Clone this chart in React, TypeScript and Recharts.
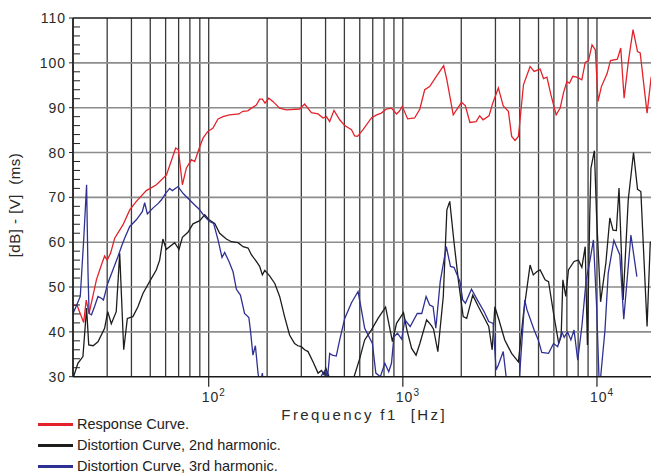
import React from "react";
import {
  LineChart,
  Line,
  XAxis,
  YAxis,
  CartesianGrid,
  ReferenceLine,
} from "recharts";

// frequency (Hz) / level pairs
const responseFreq = [
  20, 21, 22.7, 23.4, 24.2, 25.3, 26.4, 28, 29.1, 30, 31.2, 32.8, 36.2, 39.2,
  42.4, 47.7, 53.8, 60.6, 67.6, 69.8, 73.2, 76.7, 81.4, 84.7, 89.9, 93.5, 99,
  105, 111.7, 118.5, 128, 143, 150, 159, 166, 176, 183, 189, 195, 204, 214, 232,
  251, 294, 312, 338, 366, 388, 404, 420, 442, 473, 502, 544, 565, 584, 624,
  689, 733, 775, 822, 874, 928, 959, 993, 1059, 1150, 1224, 1296, 1375, 1488,
  1624, 1686, 1818, 2008, 2100, 2216, 2385, 2488, 2590, 2781, 2900, 3104, 3290,
  3497, 3636, 3783, 3938, 4183, 4523, 4747, 5097, 5306, 5523, 5790, 6164, 6463,
  6722, 6997, 7220, 7513, 7879, 8359, 8698, 9048, 9429, 9807, 10130, 10540,
  11280, 11740, 12740, 13260, 13800, 14480, 15340, 16180, 16700, 18120, 19020,
  20000,
];
const responseDb = [
  45.9, 45.9, 42.1, 47.1, 44.1, 47.9, 51.6, 54.9, 56.9, 56.0, 57.5, 60.9, 63.9,
  67.2, 69.1, 71.5, 72.8, 75.0, 81.0, 80.6, 72.8, 76.5, 78.4, 78.0, 81.3, 83.2,
  84.7, 85.4, 87.5, 88.0, 88.4, 88.6, 89.2, 89.3, 89.9, 90.6, 91.9, 91.9, 91.0,
  92.1, 91.4, 89.9, 89.5, 89.7, 90.8, 88.9, 88.6, 87.7, 88.0, 86.9, 89.4, 87.3,
  86.0, 85.1, 83.7, 83.6, 85.1, 87.7, 88.4, 88.8, 89.7, 89.9, 88.6, 89.2, 90.3,
  87.5, 87.7, 89.7, 94.0, 94.7, 97.0, 99.4, 96.2, 88.4, 91.2, 90.4, 86.7, 86.9,
  88.2, 87.3, 88.2, 90.9, 94.4, 90.4, 89.2, 83.6, 82.7, 83.6, 95.1, 99.2, 98.1,
  98.6, 96.5, 96.8, 92.9, 88.4, 89.9, 93.3, 95.8, 95.5, 97.0, 96.8, 96.2, 100.1,
  100.5, 104.0, 102.9, 91.4, 94.7, 97.6, 100.5, 100.8, 103.3, 92.1, 100.0,
  107.4, 102.5, 102.2, 88.8, 96.8, 97.2,
];

const secondFreq = [
  20, 21.2, 22.5, 23.5, 24.1, 25.4, 26.9, 29.1, 30.2, 31.5, 33.4, 34.8, 36.5,
  38.1, 40.7, 43.2, 45.9, 49.6, 53.7, 55.9, 58.1, 60.5, 66.8, 70.3, 73.2, 78.2,
  83, 89.9, 95.4, 100.4, 107.4, 113.9, 123.3, 130.9, 141.6, 150.4, 159.5, 165.9,
  176, 183, 189, 194.5, 206, 219, 232, 246, 261, 277, 288, 300, 312, 325, 345,
  366, 381, 393, 401, 417, 440, 500, 561, 600, 636, 688, 745, 815, 884, 928,
  1008, 1050, 1110, 1170, 1224, 1326, 1404, 1440, 1515, 1616, 1686, 1745, 1834,
  1931, 2046, 2133, 2291, 2452, 2659, 2770, 2886, 2978, 3125, 3350, 3486, 3634,
  3938, 4183, 4523, 4700, 4896, 5097, 5406, 5632, 5977, 6354, 6540, 6674, 6910,
  7130, 7620, 8020, 8360, 8698, 8930, 9170, 9310, 9700, 9960, 10440, 11110,
  11650, 12100, 12590, 12990, 13640, 14490, 15430, 16180, 16830, 18120, 18810,
  20000,
];
const secondDb = [
  29.6, 33.0, 34.5, 45.3, 37.1, 36.9, 37.8, 40.8, 44.5, 41.8, 44.5, 57.5, 36.0,
  43.0, 43.4, 45.6, 48.6, 51.2, 53.8, 56.0, 60.7, 58.4, 59.9, 58.4, 61.1, 62.2,
  64.1, 64.8, 66.1, 65.0, 64.2, 62.0, 60.7, 60.1, 59.9, 59.0, 58.7, 57.2, 55.7,
  54.6, 52.7, 53.7, 52.5, 50.8, 47.9, 43.4, 39.3, 37.4, 36.9, 36.7, 36.0, 35.6,
  33.3, 30.8, 31.4, 30.4, 31.9, 30.0, 28.0, 27.0, 30.0, 34.1, 38.2, 40.4, 43.0,
  45.5, 37.8, 41.9, 44.3, 40.4, 36.3, 34.8, 37.4, 42.7, 41.4, 40.6, 35.6, 47.9,
  67.2, 69.1, 60.1, 51.6, 43.4, 43.0, 48.2, 45.6, 42.7, 41.2, 36.0, 45.6, 42.7,
  38.2, 36.7, 35.2, 33.3, 44.1, 54.9, 52.7, 53.4, 53.8, 51.6, 51.2, 44.1, 37.4,
  39.0, 51.6, 47.9, 53.8, 55.7, 56.0, 54.4, 59.0, 37.1, 65.0, 76.5, 80.4, 65.7,
  46.7, 55.3, 65.4, 62.7, 62.6, 72.1, 47.1, 69.4, 80.0, 71.8, 71.3, 41.2, 59.8,
  61.5,
];

const thirdFreq = [
  20, 20.9, 21.8, 22.7, 23.5, 23.9, 24.2, 24.9, 25.8, 26.9, 28, 28.7, 30.2,
  32.1, 34.1, 35.5, 36.9, 39.2, 42.4, 45.5, 46.8, 48.3, 51.6, 54.8, 57, 60, 63,
  65, 69.5, 73.7, 79.8, 84.7, 89.1, 95.4, 101, 106, 111.7, 117.1, 120.9, 127.2,
  133.5, 138.9, 145.7, 153, 161, 164, 169, 174, 179.5, 184, 189, 193, 250, 350,
  378, 388, 400, 409, 420, 433, 454, 473, 502, 544, 588, 612, 636, 697, 726,
  766, 808, 846, 874, 900, 938, 986, 1025, 1091, 1187, 1252, 1318, 1375, 1432,
  1479, 1558, 1675, 1760, 1834, 1970, 2035, 2100, 2258, 2452, 2624, 2770, 2917,
  3024, 3104, 3290, 3420, 3700, 3990, 4247, 4362, 4747, 4985, 5196, 5632, 5977,
  6275, 6594, 6778, 7050, 7340, 7620, 7960, 8360, 8800, 9210, 9590, 9960, 10240,
  10350, 10500, 11000, 11430, 12220, 13110, 13740, 14960, 16050,
];
const thirdDb = [
  44.1, 46.0, 47.9, 60.5, 72.8, 53.1, 44.1, 43.8, 45.6, 47.9, 47.5, 47.1, 50.8,
  53.8, 56.8, 59.0, 60.9, 63.5, 65.0, 66.8, 68.8, 66.3, 67.6, 68.6, 69.4, 70.9,
  72.0, 71.5, 72.4, 70.9, 69.4, 68.3, 67.4, 65.7, 64.6, 64.2, 60.5, 56.6, 57.7,
  55.7, 53.4, 49.5, 48.2, 44.1, 43.2, 40.4, 34.8, 36.9, 30.8, 28.0, 30.8, 27.0,
  25.0, 25.0, 30.0, 30.8, 31.5, 29.5, 35.2, 34.8, 34.6, 38.2, 43.0, 46.5, 49.0,
  44.9, 40.8, 37.4, 30.8, 30.0, 33.0, 31.1, 33.0, 38.9, 39.7, 38.4, 42.7, 41.2,
  44.1, 44.1, 47.9, 46.0, 45.6, 40.8, 51.2, 59.0, 54.6, 54.4, 51.2, 47.1, 46.4,
  49.5, 46.7, 44.5, 42.3, 41.9, 31.5, 32.6, 35.6, 29.3, 27.0, 30.0, 47.1, 44.9,
  40.4, 38.2, 35.4, 35.2, 37.4, 36.7, 40.0, 38.8, 40.0, 38.2, 40.4, 33.7, 41.2,
  51.6, 56.0, 60.5, 45.6, 30.0, 28.0, 31.0, 40.4, 53.1, 60.4, 57.2, 42.8, 61.6,
  52.3,
];

const xGridTicks = [
  20, 30, 40, 50, 60, 70, 80, 90, 100, 200, 300, 400, 500, 600, 700, 800, 900,
  1000, 2000, 3000, 4000, 5000, 6000, 7000, 8000, 9000, 10000, 20000,
];
const xDecades = [100, 1000, 10000];
const yTicks = [
  30, 32, 34, 36, 38, 40, 42, 44, 46, 48, 50, 52, 54, 56, 58, 60, 62, 64, 66,
  68, 70, 72, 74, 76, 78, 80, 82, 84, 86, 88, 90, 92, 94, 96, 98, 100, 102,
  104, 106, 108, 110,
];
const yMajor = [40, 50, 60, 70, 80, 90, 100];

const series = [
  { name: "Response Curve.", color: "#e3232b", f: responseFreq, v: responseDb },
  {
    name: "Distortion Curve, 2nd harmonic.",
    color: "#1d1d1b",
    f: secondFreq,
    v: secondDb,
  },
  {
    name: "Distortion Curve, 3rd harmonic.",
    color: "#2e3192",
    f: thirdFreq,
    v: thirdDb,
  },
];

const toPoints = (f: number[], v: number[]) =>
  f.map((x, i) => ({ f: x, v: v[i] }));

const axisFont = "'Liberation Sans', Arial, sans-serif";

const YTick = (props: any) => {
  const { x, y, payload } = props;
  const ax = x + 7;
  const major = payload.value % 10 === 0;
  if (!major) {
    return <line x1={ax} x2={ax + 7} y1={y} y2={y} stroke="#222" strokeWidth={1} />;
  }
  return (
    <g>
      <line x1={ax - 4} x2={ax} y1={y} y2={y} stroke="#222" strokeWidth={1} />
      <text
        x={x}
        y={y}
        dy={5}
        textAnchor="end"
        fontFamily={axisFont}
        fontSize={14}
        letterSpacing={1}
        fill="#2a2a2a"
      >
        {payload.value}
      </text>
    </g>
  );
};

const XTick = (props: any) => {
  const { x, y, payload } = props;
  if (!xDecades.includes(payload.value)) return null;
  const exp = Math.round(Math.log10(payload.value));
  return (
    <g>
      <line x1={x} x2={x} y1={y} y2={y + 10} stroke="#222" strokeWidth={1.2} />
      <text
        x={x - 7}
        y={y + 25}
        fontFamily={axisFont}
        fontSize={14}
        letterSpacing={1}
        fill="#2a2a2a"
      >
        10
        <tspan dy={-6} fontSize={10} letterSpacing={0}>
          {exp}
        </tspan>
      </text>
    </g>
  );
};

const XTitle = (props: any) => {
  const vb = props.viewBox || {};
  const cx = (vb.x ?? 73) + (vb.width ?? 582) / 2;
  return (
    <text
      x={cx}
      y={420}
      textAnchor="middle"
      fontFamily={axisFont}
      fontSize={15}
      letterSpacing={2.4}
      fill="#2a2a2a"
      xmlSpace="preserve"
      style={{ whiteSpace: "pre" }}
    >
      {"Frequency f1  [Hz]"}
    </text>
  );
};

const YTitle = () => (
  <text
    x={20}
    y={205}
    transform="rotate(-90 20 205)"
    textAnchor="middle"
    fontFamily={axisFont}
    fontSize={15}
    letterSpacing={0.5}
    fill="#2a2a2a"
    xmlSpace="preserve"
    style={{ whiteSpace: "pre" }}
  >
    {"[dB] - [V]  (ms)"}
  </text>
);

export default function App() {
  return (
    <div
      style={{
        position: "absolute",
        left: 0,
        top: 0,
        width: 651,
        height: 473,
        overflow: "hidden",
        background: "#fff",
      }}
    >
      <LineChart
        width={700}
        height={473}
        margin={{ top: 18, right: 44.6, left: 0, bottom: 56.3 }}
      >
        <CartesianGrid
          horizontal={false}
          vertical
          stroke="#3a3a3a"
          strokeWidth={1.3}
        />
        {yMajor.map((v) => (
          <ReferenceLine key={v} y={v} stroke="#8c8c8c" strokeWidth={1.6} />
        ))}
        <ReferenceLine y={110} stroke="#1a1a1a" strokeWidth={1.5} />
        <XAxis
          type="number"
          dataKey="f"
          scale="log"
          domain={[20, 20000]}
          allowDataOverflow
          ticks={xGridTicks}
          interval={0}
          tick={<XTick />}
          tickSize={0}
          tickMargin={0}
          tickLine={false}
          axisLine={{ stroke: "#1a1a1a", strokeWidth: 1.5 }}
          height={40}
          label={{ content: <XTitle /> }}
        />
        <YAxis
          type="number"
          domain={[30, 110]}
          allowDataOverflow
          ticks={yTicks}
          interval={0}
          tick={<YTick />}
          tickSize={0}
          tickMargin={7}
          tickLine={false}
          axisLine={{ stroke: "#1a1a1a", strokeWidth: 1.5 }}
          width={73}
          label={{ content: <YTitle /> }}
        />
        {series.map((s) => (
          <Line
            key={s.name}
            data={toPoints(s.f, s.v)}
            dataKey="v"
            type="linear"
            stroke={s.color}
            strokeWidth={1.3}
            dot={false}
            activeDot={false}
            isAnimationActive={false}
          />
        ))}
      </LineChart>
      {series.map((s, i) => (
        <div
          key={s.name}
          style={{
            position: "absolute",
            left: 38,
            top: 416 + i * 21,
            height: 16,
            display: "flex",
            alignItems: "center",
            fontFamily: axisFont,
            fontSize: 14.5,
            lineHeight: "16px",
            color: "#222",
            whiteSpace: "nowrap",
          }}
        >
          <span
            style={{
              display: "inline-block",
              width: 35,
              height: 3,
              background: s.color,
              marginRight: 4,
            }}
          />
          <span>{s.name}</span>
        </div>
      ))}
    </div>
  );
}
